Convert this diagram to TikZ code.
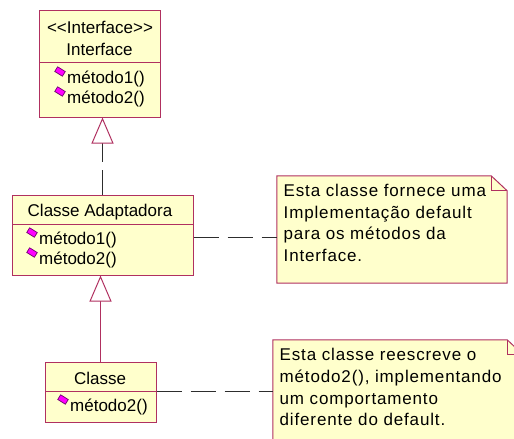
\documentclass[tikz,border=0pt]{standalone}
\usepackage{fontspec}
\setmainfont{Liberation Sans}
\newfontfamily\notefont{Liberation Sans}[LetterSpace=5]
\usetikzlibrary{arrows.meta}
\definecolor{umlborder}{RGB}{176,48,96}
\definecolor{umlfill}{RGB}{255,255,204}
\definecolor{opfill}{RGB}{255,0,255}
\definecolor{opline}{RGB}{110,0,110}
\definecolor{linkgray}{RGB}{45,45,45}
\begin{document}
\begin{tikzpicture}[x=1pt,y=-1pt,
    box/.style={draw=umlborder,fill=umlfill,line width=1pt,inner sep=0pt},
    txt/.style={inner sep=0pt,font=\fontsize{17}{21.7}\selectfont},
    notetxt/.style={inner sep=0pt,align=left,anchor=north west,
      font=\notefont\fontsize{17}{21.7}\selectfont},
    opmark/.style={draw=opline,fill=opfill,line width=0.7pt,inner sep=0pt,
      minimum width=9pt,minimum height=5.5pt,rotate=-32},
    notebox/.style={inner sep=0pt},
    noteline/.style={draw=umlborder,fill=umlfill,line width=1pt},
    attach/.style={draw=linkgray,line width=1pt,dash pattern=on 25pt off 9pt},
    gen/.style={-{Triangle[open,length=26pt,width=22pt,color=umlborder,fill=white]},
      line width=1pt}]
  \clip (0,0) rectangle (514,439);
  \draw
    (99.5,36) node[box,minimum width=121pt,minimum height=52pt] (ifhead){}
    (99.5,89.5) node[box,minimum width=121pt,minimum height=55pt] (ifops){}
    (102.5,209.5) node[box,minimum width=181pt,minimum height=29pt] (adhead){}
    (102.5,249.5) node[box,minimum width=181pt,minimum height=51pt] (adops){}
    (100.5,376.5) node[box,minimum width=111pt,minimum height=29pt] (clhead){}
    (100.5,406.5) node[box,minimum width=111pt,minimum height=31pt] (clops){};
  \node[notebox,minimum width=230pt,minimum height=107pt] (note1) at (392,229.5) {};
  \node[notebox,minimum width=250pt,minimum height=125pt] (note2) at (398,402.5) {};
  \foreach \n in {note1,note2} {
    \draw[noteline] (\n.north west) -- ([xshift=-16pt]\n.north east)
      -- ([yshift=-15pt]\n.north east) -- (\n.south east) -- (\n.south west) -- cycle;
    \draw[umlborder,line width=1pt] ([xshift=-16pt]\n.north east)
      |- ([yshift=-15pt]\n.north east);
  }
  \begin{scope}
    \draw[gen,draw=linkgray,dash pattern=on 25pt off 8pt]
      (adhead.north) -- (adhead.north |- ifops.south);
    \draw[gen,draw=umlborder] (clhead.north) -- (clhead.north |- adops.south);
    \draw[attach] ([yshift=12.5pt]adops.east) -- ([yshift=12.5pt]adops.east -| note1.west);
    \draw[attach] (clhead.south east) -- (clhead.south east -| note2.west);
  \end{scope}
  \node[txt,anchor=base] (ifstereo) at (100,33.3) {<\kern0pt<Interface>\kern0pt>};
  \node[txt,anchor=base] (ifname) at (99.5,55) {Interface};
  \node[opmark] (ifmark1) at (60,71.5) {};
  \node[txt,anchor=base west] (ifop1) at (67,83.3) {método1()};
  \node[opmark] (ifmark2) at (60,91.5) {};
  \node[txt,anchor=base west] (ifop2) at (67,103.3) {método2()};
  \node[txt,anchor=base] (adname) at (100,216.3) {Classe Adaptadora};
  \node[opmark] (admark1) at (32,232.5) {};
  \node[txt,anchor=base west] (adop1) at (39,244.7) {método1()};
  \node[opmark] (admark2) at (32,252.5) {};
  \node[txt,anchor=base west] (adop2) at (39,264.7) {método2()};
  \node[txt,anchor=base] (clname) at (100,384.3) {Classe};
  \node[opmark] (clmark) at (63,399.5) {};
  \node[txt,anchor=base west] (clop) at (70,411.7) {método2()};
  \node[notetxt] (note1txt) at (283.5,184)
    {Esta classe fornece uma\\Implementação default\\para os métodos da\\Interface.};
  \node[notetxt] (note2txt) at (279.5,348.3)
    {Esta classe reescreve o\\método2(), implementando\\um comportamento\\diferente do default.};
\end{tikzpicture}
\end{document}
